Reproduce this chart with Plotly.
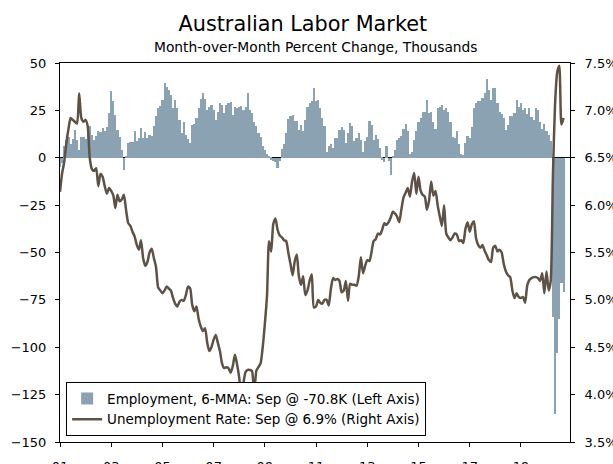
import pandas as pd
import plotly.graph_objects as go

# ---- data ----
ur_2001 = [6.14, 6.34, 6.45, 6.65, 6.80, 6.92, 6.90, 6.88, 6.86, 7.18, 6.92, 6.88]
ur_2002 = [6.90, 6.83, 6.50, 6.38, 6.36, 6.39, 6.20, 6.33, 6.30, 6.20, 6.12, 6.18]
ur_2003 = [6.15, 6.10, 5.97, 6.11, 6.04, 6.06, 6.11, 5.95, 5.81, 5.78, 5.72, 5.67]
ur_2004 = [5.58, 5.53, 5.63, 5.44, 5.36, 5.40, 5.50, 5.54, 5.44, 5.35, 5.13, 5.10]
ur_2005 = [5.07, 5.10, 5.14, 5.12, 5.10, 5.02, 4.96, 4.93, 4.98, 5.00, 4.99, 5.05]
ur_2006 = [5.14, 5.12, 4.95, 4.88, 4.93, 4.80, 4.72, 4.67, 4.70, 4.55, 4.46, 4.50]
ur_2007 = [4.58, 4.63, 4.55, 4.46, 4.33, 4.28, 4.29, 4.28, 4.23, 4.30, 4.42, 4.32]
ur_2008 = [4.18, 3.99, 4.12, 4.24, 4.26, 4.26, 4.25, 4.00, 4.25, 4.29, 4.33, 4.50]
ur_2009 = [4.75, 5.05, 5.62, 5.51, 5.80, 5.86, 5.74, 5.68, 5.66, 5.63, 5.62, 5.50]
ur_2010 = [5.38, 5.26, 5.40, 5.48, 5.25, 5.16, 5.25, 5.05, 5.10, 5.20, 5.27, 4.92]
ur_2011 = [4.93, 5.00, 4.97, 4.96, 5.00, 5.00, 4.94, 5.12, 5.23, 5.21, 5.22, 5.20]
ur_2012 = [5.08, 5.10, 5.20, 4.99, 5.17, 5.16, 5.16, 5.15, 5.25, 5.45, 5.28, 5.36]
ur_2013 = [5.42, 5.41, 5.50, 5.62, 5.64, 5.70, 5.69, 5.74, 5.81, 5.79, 5.82, 5.87]
ur_2014 = [5.93, 5.91, 5.88, 5.82, 5.95, 6.08, 6.13, 6.18, 6.09, 6.25, 6.34, 6.12]
ur_2015 = [6.30, 6.15, 6.11, 6.09, 5.95, 6.05, 6.25, 6.10, 6.15, 6.00, 5.88, 5.78]
ur_2016 = [6.00, 5.70, 5.66, 5.63, 5.66, 5.70, 5.69, 5.62, 5.63, 5.60, 5.75, 5.82]
ur_2017 = [5.72, 5.80, 5.83, 5.65, 5.58, 5.55, 5.58, 5.52, 5.47, 5.42, 5.40, 5.55]
ur_2018 = [5.57, 5.51, 5.53, 5.50, 5.38, 5.30, 5.26, 5.24, 5.10, 5.02, 5.07, 5.03]
ur_2019 = [5.02, 5.03, 4.97, 5.15, 5.21, 5.23, 5.24, 5.24, 5.23, 5.20, 5.28, 5.07]
ur_2020 = [5.30, 5.10, 5.20, 6.30, 7.05, 7.40, 7.47, 6.85, 6.92]

emp_2001 = [-5, -3, 6, 9.5, 11, 7, 10, 14.8, 9.5, 4.2, 11, 11]
emp_2002 = [10, 13, 17, 12, 9.5, 11.5, 14, 13.5, 15.5, 14, 16, 23.6]
emp_2003 = [35, 29.7, 22.7, 14.8, 11, 4, -6.3, 0.5, 7.7, 8.5, 8.5, 13.9]
emp_2004 = [9, 10.5, 15.7, 10.5, 13.5, 10.5, 12, 11.5, 16.5, 21.8, 26.2, 27.1]
emp_2005 = [30.6, 39.4, 37.6, 36, 33, 26, 30.6, 26, 20, 13, 19, 12]
emp_2006 = [10, 8, 17.4, 18, 21, 26, 31, 34, 31, 25, 27, 28]
emp_2007 = [25, 20, 24.4, 28.9, 28, 23.6, 28, 28.9, 29.2, 22.7, 27, 26.2]
emp_2008 = [27, 27.4, 25.3, 27, 34, 25, 23.6, 19, 16.5, 13, 11, 6]
emp_2009 = [4, 2, 0.5, -1, -1.5, -2, -5.6, -1.5, 4.5, 7, 13, 20.5]
emp_2010 = [21.8, 22.7, 19.2, 19.2, 14.8, 17.4, 13.9, 20, 27, 28.9, 29.7, 36.8]
emp_2011 = [29.7, 30.6, 26.2, 20.9, 16.5, 3, 6, 7, 5, 10.4, 10.4, 14.8]
emp_2012 = [16, 14.8, 7.7, 13, 18.3, 16.5, 8.6, 10.4, 13, 9.5, 3.3, 8.6]
emp_2013 = [11.2, 19.2, 17.4, 9.5, 12.1, 10, 5, -1, -2, 6, -1.5, -9]
emp_2014 = [0.5, 4, 9.5, 10.4, 11.5, 15, 18, 14, 2, 3, 9.5, 14]
emp_2015 = [19, 21, 24.4, 24, 30.6, 23.6, 24.4, 19, 15, 26, 27, 28]
emp_2016 = [25.3, 26, 24.4, 19, 11.2, 10.4, 13.9, 7.5, 2, 1.2, 8, 11.5]
emp_2017 = [10.4, 16, 26, 29, 30, 30, 31.5, 34, 41.7, 36, 30.6, 37]
emp_2018 = [36.8, 28.9, 24.4, 23, 20.9, 14.8, 17.4, 22, 22, 23.6, 30.6, 27]
emp_2019 = [28.9, 25, 26.2, 23, 26.2, 21.7, 20, 26, 25, 19, 15, 18]
emp_2020 = [14, 12, 9, -84, -135, -103, -85, -66, -70.8]

tick_years = [2001, 2003, 2005, 2007, 2009, 2011, 2013, 2015, 2017, 2019]
tick_labels = ["01", "03", "05", "07", "09", "11", "13", "15", "17", "19"]

unemployment = (ur_2001 + ur_2002 + ur_2003 + ur_2004 + ur_2005 + ur_2006 + ur_2007
                + ur_2008 + ur_2009 + ur_2010 + ur_2011 + ur_2012 + ur_2013 + ur_2014
                + ur_2015 + ur_2016 + ur_2017 + ur_2018 + ur_2019 + ur_2020)
employment = (emp_2001 + emp_2002 + emp_2003 + emp_2004 + emp_2005 + emp_2006 + emp_2007
              + emp_2008 + emp_2009 + emp_2010 + emp_2011 + emp_2012 + emp_2013 + emp_2014
              + emp_2015 + emp_2016 + emp_2017 + emp_2018 + emp_2019 + emp_2020)
dates = pd.date_range("2001-01-01", periods=len(unemployment), freq="MS")

FONT = "DejaVu Sans"
BAR_C = "#8AA2B2"
LINE_C = "#5E5246"
DAY_MS = 86400000

fig = go.Figure()
fig.add_trace(go.Bar(
    x=dates, y=employment, name="Employment, 6-MMA: Sep @ -70.8K (Left Axis)",
    marker=dict(color=BAR_C, line=dict(width=0)), width=31 * DAY_MS,
    yaxis="y"))
fig.add_trace(go.Scatter(
    x=dates, y=unemployment, name="Unemployment Rate: Sep @ 6.9% (Right Axis)",
    mode="lines", line=dict(color=LINE_C, width=2.5, shape="spline", smoothing=0.6),
    yaxis="y2"))

axis_common = dict(showline=True, linecolor="black", linewidth=1, ticks="outside",
                   tickcolor="black", ticklen=4, showgrid=False, automargin=False,
                   tickfont=dict(family=FONT, size=13, color="black"))

fig.update_layout(
    template="none",
    width=613, height=464,
    margin=dict(l=60, r=43, t=63, b=22),
    paper_bgcolor="white", plot_bgcolor="white",
    bargap=0,
    showlegend=True,
    title=dict(text="Australian Labor Market", x=0.494, xanchor="center",
               y=1 - 24 / 464, yanchor="middle",
               font=dict(family=FONT, size=20.8, color="black")),
    annotations=[dict(text="Month-over-Month Percent Change, Thousands",
                      xref="paper", yref="paper", x=0.501, y=1 + (63 - 46.5) / 379,
                      xanchor="center", yanchor="middle", showarrow=False,
                      font=dict(family=FONT, size=13.8, color="black"))],
    xaxis=dict(type="date", range=["2001-01-01", "2020-12-01"],
               tickvals=[pd.Timestamp(f"{y}-01-01") for y in tick_years],
               ticktext=tick_labels, mirror=True, ticklabelstandoff=8, **axis_common),
    yaxis=dict(range=[-150, 50], dtick=25, zeroline=True, zerolinecolor="black",
               zerolinewidth=1.2, ticklabelstandoff=6, **axis_common),
    yaxis2=dict(range=[3.5, 7.5], dtick=0.5, tickformat=".1f", ticksuffix="%",
                overlaying="y", side="right", zeroline=False, ticklabelstandoff=7,
                **axis_common),
    legend=dict(x=0.012, y=0.015, xanchor="left", yanchor="bottom",
                bgcolor="white", bordercolor="black", borderwidth=1,
                font=dict(family=FONT, size=13.5, color="black"),
                tracegroupgap=0, itemwidth=30),
)

fig.write_html("out.html", config={"displayModeBar": False},
               post_script="document.body.style.margin='0';document.body.style.padding='0';")
